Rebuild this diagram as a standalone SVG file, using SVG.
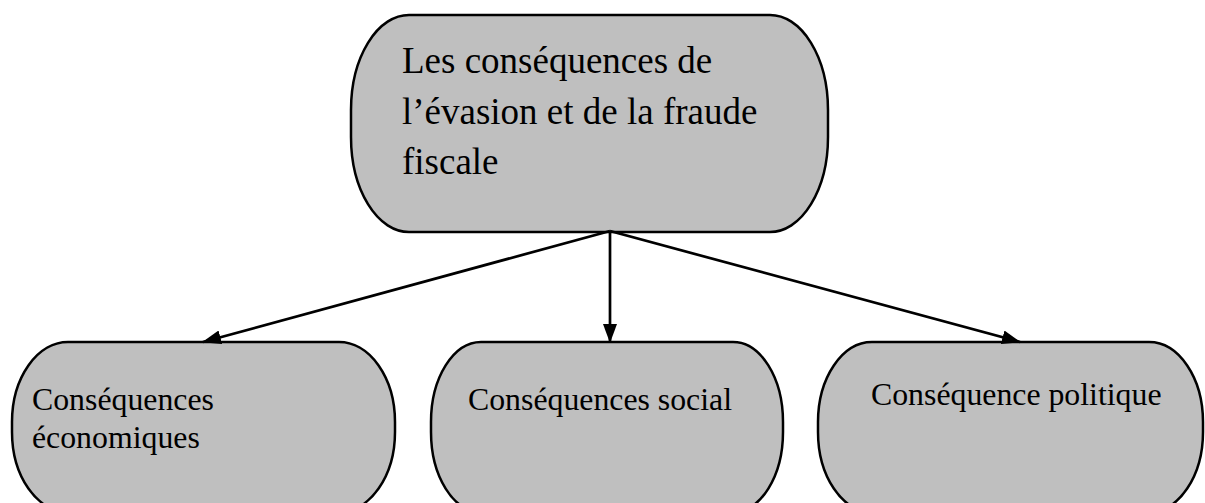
<svg xmlns="http://www.w3.org/2000/svg" width="1205" height="503" viewBox="0 0 1205 503">
<style>
.node{fill:#bfbfbf;stroke:#000;stroke-width:2.5}
.t{font-family:"Liberation Serif","Times New Roman",serif;fill:#000}
.big{font-size:37px}
.small{font-size:31.8px}
.conn{stroke:#000;stroke-width:2.7;fill:none;marker-end:url(#ah)}
</style>
<defs>
<marker id="ah" markerUnits="userSpaceOnUse" markerWidth="20" markerHeight="14" refX="18" refY="7" orient="auto">
<path d="M0,0 L19,7 L0,14 Z" fill="#000"/>
</marker>
</defs>
<rect width="1205" height="503" fill="#fff"/>
<g id="node-top">
<rect class="node" x="351" y="15" width="477" height="217" rx="58" ry="95"/>
<text class="t big" x="402" y="73">Les conséquences de</text>
<text class="t big" x="402" y="124">l’évasion et de la fraude</text>
<text class="t big" x="402" y="174">fiscale</text>
</g>
<g id="node-eco">
<rect class="node" x="12" y="342" width="383" height="170" rx="56" ry="80"/>
<text class="t small" x="32" y="410">Conséquences</text>
<text class="t small" x="32" y="448">économiques</text>
</g>
<g id="node-social">
<rect class="node" x="431" y="342" width="352" height="170" rx="50" ry="80"/>
<text class="t small" x="468" y="410">Conséquences social</text>
</g>
<g id="node-pol">
<rect class="node" x="818" y="342" width="385" height="170" rx="54" ry="80"/>
<text class="t small" x="871" y="405">Conséquence politique</text>
</g>
<g id="connectors">
<line class="conn" x1="610" y1="231" x2="203" y2="342"/>
<line class="conn" x1="610" y1="231" x2="610" y2="342"/>
<line class="conn" x1="610" y1="231" x2="1020" y2="342"/>
</g>
</svg>
